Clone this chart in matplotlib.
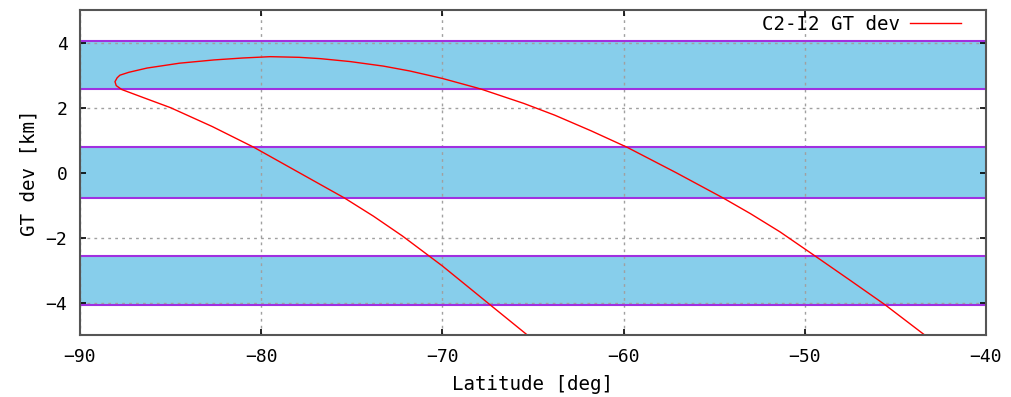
import matplotlib
matplotlib.use("Agg")
import matplotlib.pyplot as plt

# ground track deviation along the pass (latitude in deg, deviation in km)
lat = [-65.3, -67.4, -68.5, -70.0, -70.74, -72.2, -73.8, -75.4, -77.9,
       -80.4, -82.7, -85.0, -86.5, -87.7, -88.0, -88.07, -87.95, -87.8,
       -87.3, -86.3, -84.5, -82.6, -81.0, -79.5, -77.9, -76.75, -75.1,
       -73.26, -71.8, -70.0, -68.1, -67.8, -65.5, -63.8, -61.8, -59.8,
       -57.1, -54.5, -53.0, -51.37, -49.44, -47.5, -45.58, -43.37]
gt_dev = [-5.0, -4.05, -3.55, -2.87, -2.56, -1.95, -1.34, -0.78, 0.0,
          0.78, 1.42, 2.0, 2.31, 2.56, 2.68, 2.8, 2.92, 3.0,
          3.09, 3.22, 3.37, 3.47, 3.53, 3.57, 3.55, 3.51, 3.42,
          3.28, 3.13, 2.90, 2.61, 2.56, 2.13, 1.77, 1.29, 0.78,
          0.0, -0.78, -1.26, -1.82, -2.56, -3.31, -4.06, -5.0]

# tolerance bands (lower, upper) in km
bands = [(-4.06, -2.56), (-0.78, 0.78), (2.56, 4.06)]

x_ticks = [-90, -80, -70, -60, -50, -40]
y_ticks = [-4, -2, 0, 2, 4]

FONT = "DejaVu Sans Mono"
plt.rcParams["font.family"] = FONT

fig = plt.figure(figsize=(10.12, 3.97), dpi=100)
ax = fig.add_axes([80 / 1012, 1 - 335.2 / 397, 906 / 1012, 325 / 397])

for lo, hi in bands:
    ax.axhspan(lo, hi, facecolor="#87ceeb", edgecolor="none", zorder=1)
    ax.axhline(lo, color="#a030e0", lw=1.5, zorder=3)
    ax.axhline(hi, color="#a030e0", lw=1.5, zorder=3)

ax.plot(lat, gt_dev, color="red", lw=1.0, label="C2-I2 GT dev", zorder=4)

ax.set_xlim(-90, -40)
ax.set_ylim(-5, 5)
ax.set_xticks(x_ticks)
ax.set_yticks(y_ticks)
ax.set_xticklabels([str(t).replace("-", "\u2212") for t in x_ticks])
ax.set_yticklabels([str(t).replace("-", "\u2212") for t in y_ticks])

ax.set_axisbelow(False)
ax.grid(True, color="#a0a0a0", linestyle=(0, (2, 3)), lw=1.0, zorder=2)
for t, gl in zip(y_ticks, ax.yaxis.get_gridlines()):
    if t == 0:
        gl.set_visible(False)

ax.tick_params(direction="in", length=4, width=1.2, top=True, right=True,
               labelsize=13, pad=9, colors="black")
for s in ax.spines.values():
    s.set_color("#555555")
    s.set_linewidth(1.5)
    s.set_zorder(5)

ax.set_xlabel("Latitude [deg]", fontsize=13.8, labelpad=7)
ax.set_ylabel("GT dev [km]", fontsize=13.8, labelpad=5)

ax.legend(loc="upper right", bbox_to_anchor=(1 - 0.0166, 1.015),
          frameon=False, markerfirst=False, fontsize=13.8,
          handlelength=2.66, borderaxespad=0.1, handletextpad=0.55)

fig.savefig("out.png", dpi=100)
